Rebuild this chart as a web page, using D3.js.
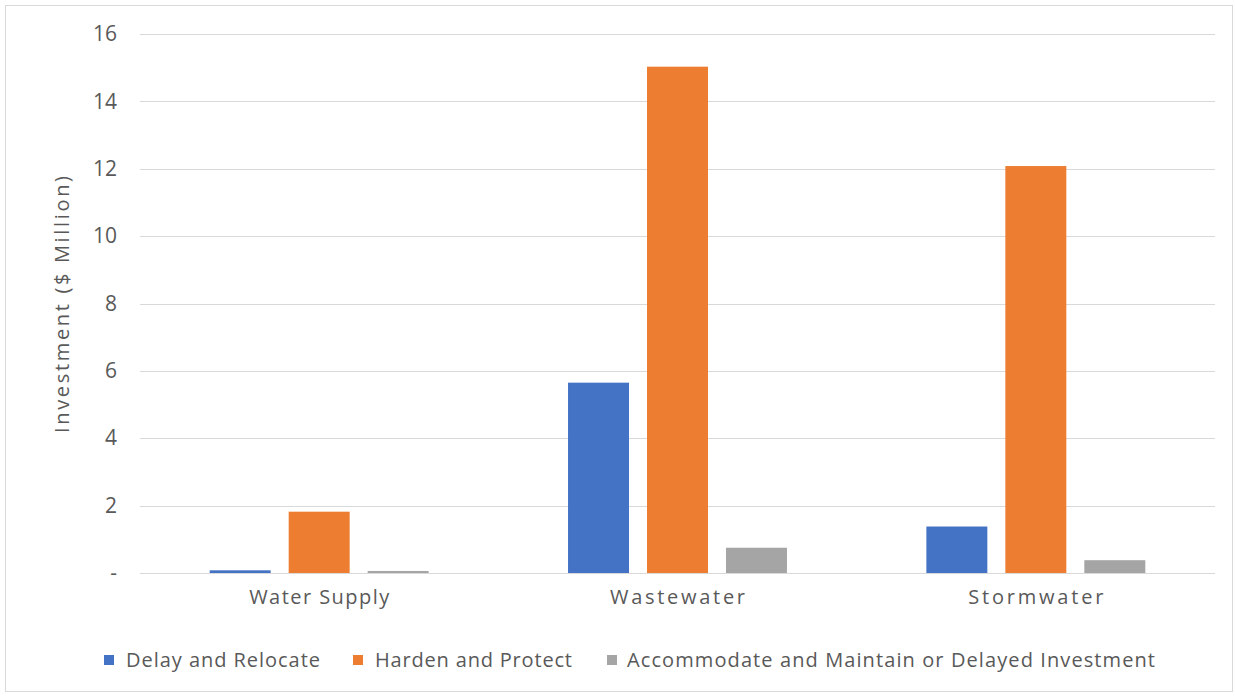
<!DOCTYPE html>
<html>
<head>
<meta charset="utf-8">
<script src="https://cdn.jsdelivr.net/npm/d3@7"></script>
<style>
  body { margin: 0; background: #fff; }
  text { font-family: "Open Sans", sans-serif; fill: #595959; }
</style>
</head>
<body>
<script>
var categories = ['Water Supply', 'Wastewater', 'Stormwater'];
var seriesNames = ['Delay and Relocate', 'Harden and Protect', 'Accommodate and Maintain or Delayed Investment'];
var delayRelocate = [0.08, 5.65, 1.38];
var hardenProtect = [1.82, 15.03, 12.08];
var accommodate = [0.06, 0.75, 0.38];
var yTicks = [0, 2, 4, 6, 8, 10, 12, 14, 16];
var colors = ['#4472C4', '#ED7D31', '#A5A5A5'];

var seriesValues = [delayRelocate, hardenProtect, accommodate];

var W = 1235, H = 697;
var svg = d3.select('body').append('svg')
  .attr('width', W)
  .attr('height', H);

// chart frame
svg.append('rect')
  .attr('x', 5.5).attr('y', 5.5)
  .attr('width', 1227).attr('height', 686)
  .attr('fill', '#fff')
  .attr('stroke', '#d9d9d9');

var x = d3.scaleBand().domain(categories).range([140, 1215]).padding(0);
var y = d3.scaleLinear().domain([0, 16]).range([573, 34]);

var groupW = x.bandwidth() * 0.611;
var xs = d3.scaleBand().domain(seriesNames)
  .range([-groupW / 2, groupW / 2])
  .paddingInner(18 / 79).paddingOuter(0);

// gridlines
svg.append('g').selectAll('line')
  .data(yTicks)
  .enter().append('line')
  .attr('x1', 140).attr('x2', 1215)
  .attr('y1', function(d){ return Math.round(y(d)) + 0.5; })
  .attr('y2', function(d){ return Math.round(y(d)) + 0.5; })
  .attr('stroke', '#d9d9d9')
  .attr('stroke-width', 1);

// y axis labels
var yAxis = d3.axisLeft(y)
  .tickValues(yTicks)
  .tickSize(0)
  .tickPadding(0)
  .tickFormat(function(d){ return d === 0 ? '-' : d; });
var ya = svg.append('g').attr('transform', 'translate(117,0)').call(yAxis);
ya.select('.domain').remove();
ya.selectAll('text')
  .style('font-size', '21px')
  .style('font-family', '"Open Sans", sans-serif')
  .attr('fill', '#595959');

// bars
seriesNames.forEach(function(s, si) {
  svg.append('g').selectAll('rect')
    .data(seriesValues[si])
    .enter().append('rect')
    .attr('x', function(d, i){ return x(categories[i]) + x.bandwidth() / 2 + xs(s); })
    .attr('width', xs.bandwidth())
    .attr('y', function(d){ return y(d); })
    .attr('height', function(d){ return y(0) - y(d); })
    .attr('fill', colors[si]);
});

// category labels
var catW = [140, 135, 135];
var xAxis = d3.axisBottom(x).tickSize(0).tickPadding(0);
var xa = svg.append('g').attr('transform', 'translate(0,590)').call(xAxis);
xa.select('.domain').remove();
xa.selectAll('text')
  .attr('x', function(d, i){ return -catW[i] / 2; })
  .attr('text-anchor', 'start')
  .attr('textLength', function(d, i){ return catW[i]; })
  .attr('lengthAdjust', 'spacing')
  .style('font-size', '20px')
  .style('font-family', '"Open Sans", sans-serif')
  .attr('fill', '#595959');

// y title
svg.append('text')
  .attr('transform', 'translate(69,433) rotate(-90)')
  .attr('text-anchor', 'start')
  .attr('textLength', 257)
  .attr('lengthAdjust', 'spacing')
  .style('font-size', '20px')
  .text('Investment ($ Million)');

// legend
var legendX = [104, 353, 607];
var legendTextX = [126, 375, 627];
var legendTextW = [194, 197, 528];
var lg = svg.append('g');
seriesNames.forEach(function(s, i) {
  lg.append('rect')
    .attr('x', legendX[i]).attr('y', 655)
    .attr('width', 10).attr('height', 10)
    .attr('fill', colors[i]);
  lg.append('text')
    .attr('x', legendTextX[i]).attr('y', 667)
    .attr('textLength', legendTextW[i])
    .attr('lengthAdjust', 'spacing')
    .style('font-size', '20px')
    .text(s);
});
</script>
</body>
</html>
